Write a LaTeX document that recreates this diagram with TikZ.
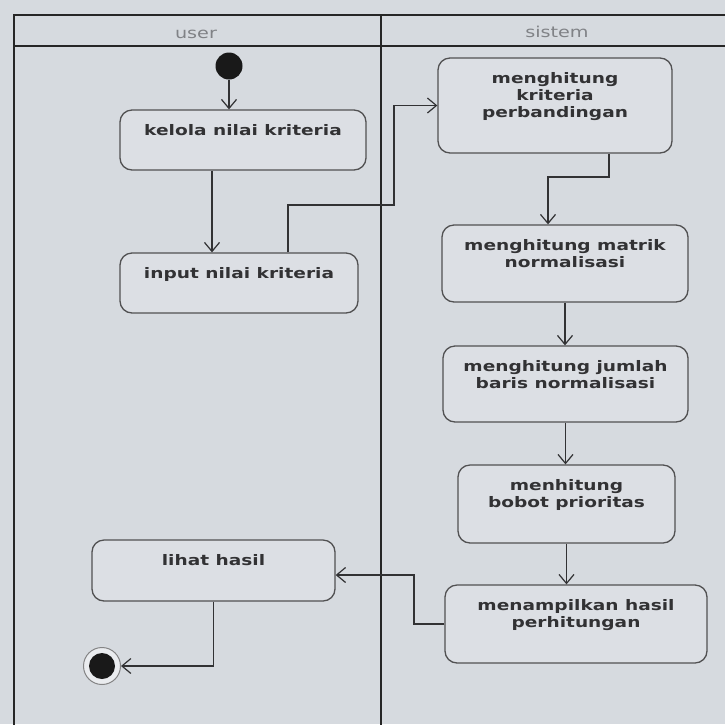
\documentclass[tikz,border=0pt]{standalone}
\usepackage{fontspec}
\setmainfont{DejaVu Sans}[FakeStretch=1.28]
\usetikzlibrary{arrows.meta,positioning}

\definecolor{paper}{RGB}{214,218,223}
\definecolor{boxfill}{RGB}{220,223,228}
\definecolor{ink}{RGB}{50,50,52}
\definecolor{lanegray}{RGB}{128,130,134}

\tikzset{
    act/.style={draw=ink!85, line width=1.3pt, rounded corners=12pt, fill=boxfill, inner sep=0pt},
    acttext/.style={anchor=north, yshift=-15pt, inner sep=0pt, align=center, text=ink, font=\fontsize{14.5}{17}\selectfont\bfseries},
    flow/.style={draw=ink, line width=1.2pt, -{Straight Barb[length=9pt,width=15pt,line width=1.2pt]}},
    lane/.style={draw=black!85, line width=2.2pt},
    lanetitle/.style={anchor=base, text=lanegray, font=\fontsize{15}{18}\selectfont},
}

\begin{document}
\begin{tikzpicture}[x=1pt,y=-1pt]
    \useasboundingbox[fill=paper] (0,0) rectangle (725,724);
    \clip (0,0) rectangle (725,724);

    % Swimlanes
    \draw[lane] (14,730) -- (14,15) -- (730,15);
    \draw[lane] (14,46) -- (730,46);
    \draw[lane] (381,15) -- (381,730);
    \node[lanetitle] (user) at (196,38) {user};
    \node[lanetitle] (sistem) at (557,37) {sistem};

    % Activities
    \foreach \name/\cx/\cy/\w/\h/\txt in {
        kelola/243/140/246/60/{kelola nilai kriteria},
        input/239/283/238/60/{input nilai kriteria},
        kriteria/555/105.5/234/95/{menghitung\\kriteria\\perbandingan},
        matrik/565/263.5/246/77/{menghitung matrik\\normalisasi},
        jumlah/565.5/384/245/76/{menghitung jumlah\\baris normalisasi},
        bobot/566.5/504/217/78/{menhitung\\bobot prioritas},
        tampil/576/624/262/78/{menampilkan hasil\\perhitungan},
        lihat/213.5/570.5/243/61/{lihat hasil}}
    {
        \node[act, minimum width=\w pt, minimum height=\h pt] (\name) at (\cx,\cy) {};
        \node[acttext] (\name txt) at (\name.north) {\txt};
    }

    % Start and end
    \node[circle, fill=black!90, minimum size=27pt, inner sep=0pt] (start) at (229,66) {};
    \node[circle, draw=ink!60, line width=1pt, fill=boxfill!60!white, minimum size=37pt, inner sep=0pt] (finish) at (102,666) {};
    \node[circle, fill=black!90, minimum size=26pt, inner sep=0pt] (finishdot) at (finish) {};

    % Flows in user lane
    \draw[flow] (start) -- (start |- kelola.north);
    \coordinate (k2i) at (212,0);
    \draw[flow] (kelola.south -| k2i) -- (input.north -| k2i);

    % Across to sistem
    \coordinate (i2k) at (288,0);
    \coordinate (bendA) at (394,205);
    \draw[flow] (input.north -| i2k) |- (bendA) |- (kriteria.west);

    \coordinate (k2m) at (609,0);
    \coordinate (bendB) at (548,177);
    \draw[flow] (kriteria.south -| k2m) |- (bendB) -- (matrik.north -| bendB);

    \foreach \a/\b in {matrik/jumlah, jumlah/bobot, bobot/tampil}
        \draw[flow] (\a.south) -- (\a.south |- \b.north);

    % Back to user
    \coordinate (bendC) at (414,575);
    \draw[flow] (tampil.west) -| (bendC) -- (lihat.east |- bendC);
    \draw[flow] (lihat.south) |- (finish);
\end{tikzpicture}
\end{document}
